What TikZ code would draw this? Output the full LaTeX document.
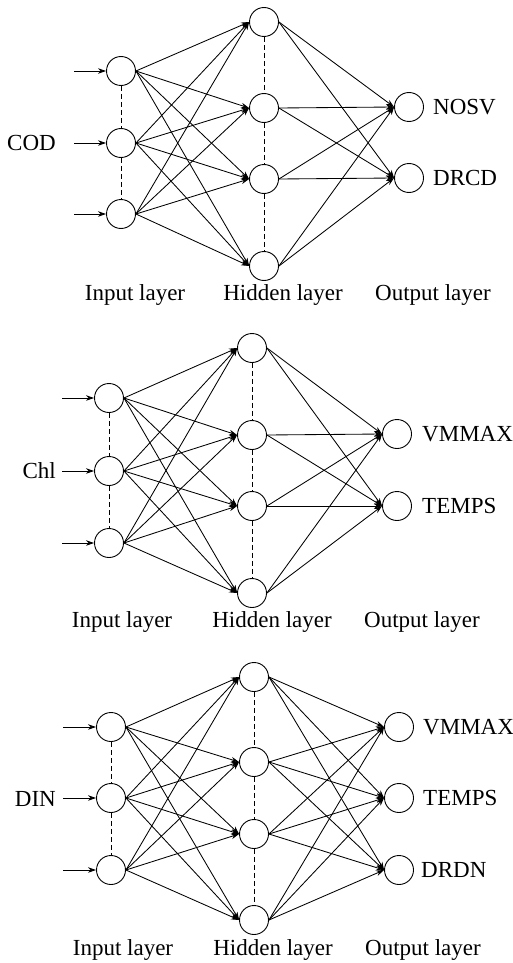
\documentclass[tikz,border=0pt]{standalone}
\usepackage{fontspec}
\setmainfont{Liberation Serif}
\usetikzlibrary{arrows.meta}
\begin{document}
\begin{tikzpicture}[x=1pt,y=-1pt,
  neuron/.style={circle,draw,line width=0.9pt,minimum size=29pt,inner sep=0pt},
  conn/.style={line width=0.85pt,-{Stealth[length=8pt,width=5.5pt]}},
  dline/.style={line width=0.75pt,dash pattern=on 5pt off 3pt},
  lbl/.style={font=\fontsize{23}{27}\selectfont,inner sep=0pt}]
\useasboundingbox[fill=white] (0,0) rectangle (513,963);

% ---------- Network 1 ----------
\foreach \y [count=\i] in {71,143,214} {
  \node[neuron] (a-i\i) at (121,\y) {};
  \coordinate (a-s\i) at (74,\y);
}
\foreach \y [count=\i] in {22,108,179,266} \node[neuron] (a-h\i) at (264,\y) {};
\foreach \y [count=\i] in {107,178} \node[neuron] (a-o\i) at (409,\y) {};
\foreach \i in {1,2,3} {
  \draw[conn] (a-s\i) -- (a-i\i.west);
  \foreach \j in {1,...,4} \draw[conn] (a-i\i.east) -- (a-h\j.west);
}
\foreach \j in {1,...,4} \foreach \k in {1,2} \draw[conn] (a-h\j.east) -- (a-o\k.west);
\draw[dline] (a-i1.south) -- (a-i2.north);
\draw[dline] (a-i2.south) -- (a-i3.north);
\draw[dline] (a-h1.south) -- (a-h2.north);
\draw[dline] (a-h2.south) -- (a-h3.north);
\draw[dline] (a-h3.south) -- (a-h4.north);
\node[lbl,anchor=base east] (a-in) at (56,150) {COD};
\node[lbl,anchor=base west] (a-l1) at (433,114) {NOSV};
\node[lbl,anchor=base west] (a-l2) at (433,185) {DRCD};
\node[lbl,anchor=base] (a-t1) at (135,300) {Input layer};
\node[lbl,anchor=base] (a-t2) at (283,300) {Hidden layer};
\node[lbl,anchor=base] (a-t3) at (433,300) {Output layer};

% ---------- Network 2 ----------
\foreach \y [count=\i] in {398,471,543} {
  \node[neuron] (b-i\i) at (109,\y) {};
  \coordinate (b-s\i) at (62,\y);
}
\foreach \y [count=\i] in {348,435,506,593} \node[neuron] (b-h\i) at (252,\y) {};
\foreach \y [count=\i] in {434,506} \node[neuron] (b-o\i) at (397,\y) {};
\foreach \i in {1,2,3} {
  \draw[conn] (b-s\i) -- (b-i\i.west);
  \foreach \j in {1,...,4} \draw[conn] (b-i\i.east) -- (b-h\j.west);
}
\foreach \j in {1,...,4} \foreach \k in {1,2} \draw[conn] (b-h\j.east) -- (b-o\k.west);
\draw[dline] (b-i1.south) -- (b-i2.north);
\draw[dline] (b-i2.south) -- (b-i3.north);
\draw[dline] (b-h1.south) -- (b-h2.north);
\draw[dline] (b-h2.south) -- (b-h3.north);
\draw[dline] (b-h3.south) -- (b-h4.north);
\node[lbl,anchor=base east] (b-in) at (56,478) {Chl};
\node[lbl,anchor=base west] (b-l1) at (422,441) {VMMAX};
\node[lbl,anchor=base west] (b-l2) at (422,513) {TEMPS};
\node[lbl,anchor=base] (b-t1) at (122,627) {Input layer};
\node[lbl,anchor=base] (b-t2) at (272,627) {Hidden layer};
\node[lbl,anchor=base] (b-t3) at (422,627) {Output layer};

% ---------- Network 3 ----------
\foreach \y [count=\i] in {727,798,870} {
  \node[neuron] (c-i\i) at (111,\y) {};
  \coordinate (c-s\i) at (63,\y);
}
\foreach \y [count=\i] in {677,762,834,920} \node[neuron] (c-h\i) at (254,\y) {};
\foreach \y [count=\i] in {727,798,870} \node[neuron] (c-o\i) at (399,\y) {};
\foreach \i in {1,2,3} {
  \draw[conn] (c-s\i) -- (c-i\i.west);
  \foreach \j in {1,...,4} \draw[conn] (c-i\i.east) -- (c-h\j.west);
}
\foreach \j in {1,...,4} \foreach \k in {1,2,3} \draw[conn] (c-h\j.east) -- (c-o\k.west);
\draw[dline] (c-i1.south) -- (c-i2.north);
\draw[dline] (c-i2.south) -- (c-i3.north);
\draw[dline] (c-h1.south) -- (c-h2.north);
\draw[dline] (c-h2.south) -- (c-h3.north);
\draw[dline] (c-h3.south) -- (c-h4.north);
\node[lbl,anchor=base east] (c-in) at (56,806) {DIN};
\node[lbl,anchor=base west] (c-l1) at (423,734) {VMMAX};
\node[lbl,anchor=base west] (c-l2) at (423,805) {TEMPS};
\node[lbl,anchor=base west] (c-l3) at (421,877) {DRDN};
\node[lbl,anchor=base] (c-t1) at (123,955) {Input layer};
\node[lbl,anchor=base] (c-t2) at (273,955) {Hidden layer};
\node[lbl,anchor=base] (c-t3) at (423,955) {Output layer};
\end{tikzpicture}
\end{document}
